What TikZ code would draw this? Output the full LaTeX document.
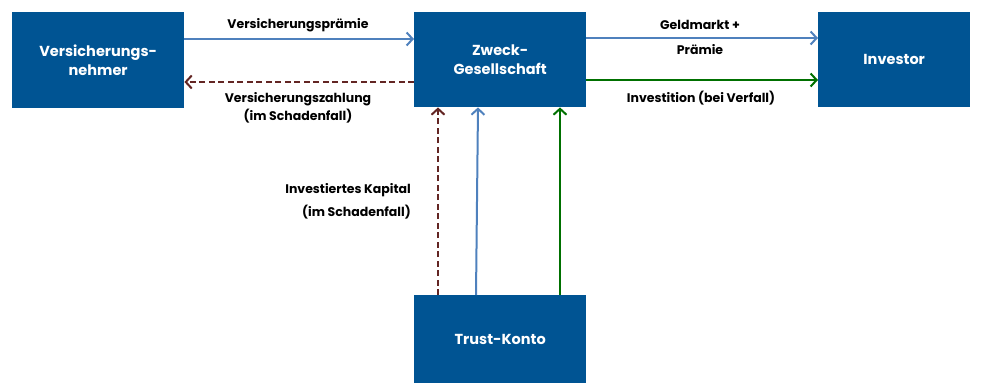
\documentclass[tikz,border=0pt]{standalone}
\usepackage{fontspec}
\setmainfont{Poppins}
\usetikzlibrary{arrows.meta}
\definecolor{boxblue}{RGB}{0,84,147}
\definecolor{lineblue}{RGB}{79,129,189}
\definecolor{darkred}{RGB}{99,37,35}
\definecolor{dgreen}{RGB}{0,112,0}
\begin{document}
\begin{tikzpicture}[x=1pt,y=-1pt,
  box/.style={draw=none,fill=boxblue,text=white,font=\fontsize{14.5}{19}\selectfont\bfseries,align=center,anchor=north west,inner sep=0pt},
  lbl/.style={font=\fontsize{12.5}{15}\selectfont\bfseries,align=center,inner sep=0pt},
  arr/.style={-{Straight Barb[length=6pt,width=13pt]},line width=2pt},
  bluearr/.style={arr,lineblue},
  redarr/.style={arr,darkred,dashed,dash pattern=on 6pt off 3.5pt},
  greenarr/.style={arr,dgreen}]
\useasboundingbox (0,0) rectangle (983,383);
\node[box,minimum width=172pt,minimum height=96pt] (vn) at (12,12) {Versicherungs-\\nehmer};
\node[box,minimum width=172pt,minimum height=95pt] (zg) at (414,12) {Zweck-\\Gesellschaft};
\node[box,minimum width=152pt,minimum height=95pt] (inv) at (818,12) {Investor};
\node[box,minimum width=172pt,minimum height=88pt] (tk) at (414,295) {Trust-Konto};
% horizontal arrows
\draw[bluearr] (vn.east |- 0,39) -- (zg.west |- 0,39);
\draw[redarr] (zg.west |- 0,82) -- (vn.east |- 0,82);
\draw[bluearr] (zg.east |- 0,38) -- (inv.west |- 0,38);
\draw[greenarr] (zg.east |- 0,80) -- (inv.west |- 0,80);
% vertical arrows
\draw[redarr] (tk.north -| 438,0) -- (zg.south -| 438,0);
\draw[bluearr] (tk.north -| 476,0) -- (zg.south -| 478,0);
\draw[greenarr] (tk.north -| 560,0) -- (zg.south -| 560,0);
% labels
\node[lbl] (l1) at (298,25) {Versicherungsprämie};
\node[lbl] (l2) at (298,108) {Versicherungszahlung\\[3pt](im Schadenfall)};
\node[lbl] (l3) at (700,37) {Geldmarkt +\\[10pt]Prämie};
\node[lbl] (l4) at (701,98) {Investition (bei Verfall)};
\node[lbl,align=right,anchor=east] (l5) at (411,201) {Investiertes Kapital\\[8pt](im Schadenfall)};
\end{tikzpicture}
\end{document}
